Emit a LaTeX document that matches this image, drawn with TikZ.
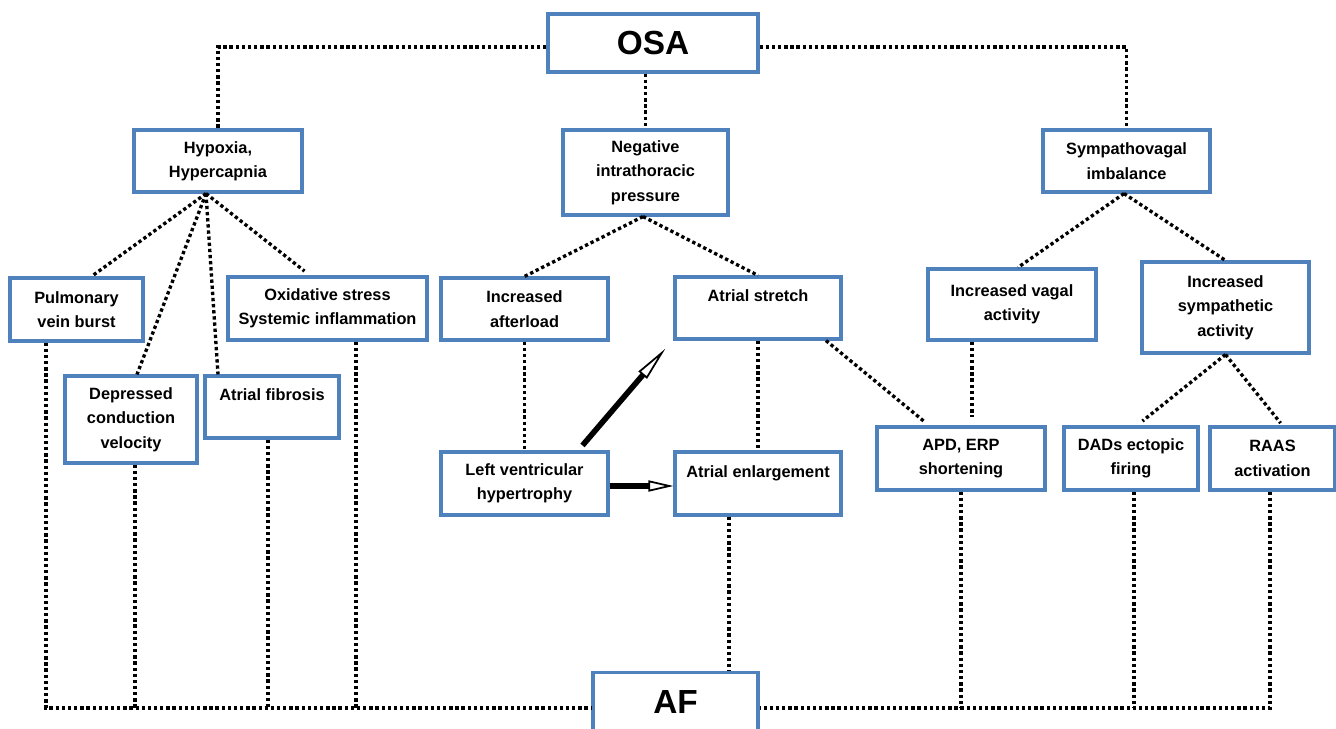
\documentclass[tikz,border=0pt]{standalone}
\usepackage{fontspec}
\setmainfont{Liberation Sans}
\usetikzlibrary{arrows.meta}
\definecolor{boxblue}{RGB}{79,129,189}

\begin{document}
\begin{tikzpicture}[x=0.02cm,y=-0.02cm,
  box/.style={draw=boxblue, line width=1.8pt, fill=white, align=center, inner sep=0pt,
    font=\bfseries\fontsize{9.3}{13.9}\selectfont},
  bigbox/.style={box, font=\bfseries\fontsize{19}{22}\selectfont},
  dotline/.style={line width=1.9pt, dash pattern=on 1.9pt off 1.6pt},
  fatarrow/.style={line width=3.2pt, -{Triangle[open,length=#1,width=0.22cm,line width=1pt]}}]
\useasboundingbox (0,0) rectangle (1336,729);

% top level
\node[bigbox, minimum width=4.2cm, minimum height=1.16cm] (osa) at (653,43) {OSA};
\node[box, minimum width=3.36cm, minimum height=1.24cm] (hyp) at (218,161) {Hypoxia,\\Hypercapnia};
\node[box, minimum width=3.3cm, minimum height=1.7cm] (nip) at (645.5,172.5) {Negative\\intrathoracic\\pressure};
\node[box, minimum width=3.34cm, minimum height=1.24cm] (svi) at (1126.5,161) {Sympathovagal\\imbalance};

% hypoxia branch
\node[box, minimum width=2.66cm, minimum height=1.26cm] (pvb) at (76.5,309.5) {Pulmonary\\vein burst};
\node[box, minimum width=3.98cm, minimum height=1.26cm] (oxs) at (327.5,308.5) {Oxidative stress\\Systemic inflammation};
\node[box, minimum width=2.64cm, minimum height=1.74cm] (dcv) at (131,419.5) {Depressed\\conduction\\velocity};
\node[box, minimum width=2.68cm, minimum height=1.24cm] (afib) at (272,407) {Atrial fibrosis\\\mbox{}};

% pressure branch
\node[box, minimum width=3.34cm, minimum height=1.24cm] (iaf) at (524.5,309) {Increased\\afterload};
\node[box, minimum width=3.32cm, minimum height=1.24cm] (ast) at (758,308) {Atrial stretch\\\mbox{}};
\node[box, minimum width=3.34cm, minimum height=1.26cm] (lvh) at (524.5,483.5) {Left ventricular\\hypertrophy};
\node[box, minimum width=3.32cm, minimum height=1.26cm] (aen) at (758,483.5) {Atrial enlargement\\\mbox{}};

% autonomic branch
\node[box, minimum width=3.36cm, minimum height=1.42cm] (iva) at (1012,304.5) {Increased vagal\\activity};
\node[box, minimum width=3.34cm, minimum height=1.82cm] (isa) at (1225.5,307.5) {Increased\\sympathetic\\activity};
\node[box, minimum width=3.36cm, minimum height=1.26cm] (apd) at (961,458.5) {APD, ERP\\shortening};
\node[box, minimum width=2.68cm, minimum height=1.26cm] (dad) at (1131,458.5) {DADs ectopic\\firing};
\node[box, minimum width=2.5cm, minimum height=1.26cm] (raas) at (1272.5,458.5) {RAAS\\activation};

\node[bigbox, anchor=north, minimum width=3.3cm, text height=0.82cm, text depth=0.6cm] (af) at (675.5,671) {AF};

% OSA to causes
\draw[dotline] ([yshift=-0.08cm]osa.west) -| (hyp.north);
\draw[dotline] ([yshift=-0.08cm]osa.east) -| (svi.north);
\draw[dotline] (nip.north |- osa.south) -- (nip.north);

\draw[dotline] ([xshift=-0.24cm]hyp.south) -- ([xshift=0.3cm]pvb.north);
\draw[dotline] ([xshift=-0.24cm]hyp.south) -- ([xshift=0.12cm]dcv.north);
\draw[dotline] ([xshift=-0.24cm]hyp.south) -- ([xshift=-1.08cm]afib.north);
\draw[dotline, shorten >=0.14cm] ([xshift=-0.24cm]hyp.south) -- ([xshift=-0.35cm]oxs.north);

\draw[dotline] ([xshift=-0.05cm]nip.south) -- (iaf.north);
\draw[dotline] ([xshift=-0.05cm]nip.south) -- (ast.north);
\draw[dotline] (iaf.south) -- (lvh.north);
\draw[dotline] (ast.south) -- (aen.north);
\draw[dotline, shorten >=0.14cm] ([xshift=1.36cm]ast.south) -- ([xshift=-0.64cm]apd.north);

\draw[dotline] ([xshift=-0.05cm]svi.south) -- ([xshift=0.12cm]iva.north);
\draw[dotline] ([xshift=-0.05cm]svi.south) -- (isa.north);
\draw[dotline, shorten >=0.16cm] ([xshift=0.22cm]apd.north |- iva.south) -- ([xshift=0.22cm]apd.north);
\draw[dotline, shorten >=0.14cm] (isa.south) -- ([xshift=0.12cm]dad.north);
\draw[dotline, shorten >=0.06cm] (isa.south) -- ([xshift=0.2cm]raas.north);

% thick arrows
\draw[fatarrow=0.7cm] ([xshift=1.16cm,yshift=0.1cm]lvh.north) -- ([xshift=-0.16cm,yshift=-0.16cm]ast.south west);
\draw[fatarrow=0.5cm] ([yshift=-0.05cm]lvh.east) -- ([yshift=-0.05cm]aen.west);

% down to AF
\draw[dotline] ([xshift=-0.61cm]pvb.south) |- (af.west);
\draw[dotline] ([xshift=0.08cm]dcv.south) -- ([xshift=0.08cm]dcv.south |- af.west);
\draw[dotline] ([xshift=-0.08cm]afib.south) -- ([xshift=-0.08cm]afib.south |- af.west);
\draw[dotline] ([xshift=0.57cm]oxs.south) -- ([xshift=0.57cm]oxs.south |- af.west);
\draw[dotline] ([xshift=-0.58cm]aen.south) -- ([xshift=-0.58cm]aen.south |- af.north);
\draw[dotline] ([xshift=-0.05cm]raas.south) |- (af.east);
\draw[dotline] (apd.south) -- (apd.south |- af.east);
\draw[dotline] ([xshift=0.06cm]dad.south) -- ([xshift=0.06cm]dad.south |- af.east);
\end{tikzpicture}
\end{document}
